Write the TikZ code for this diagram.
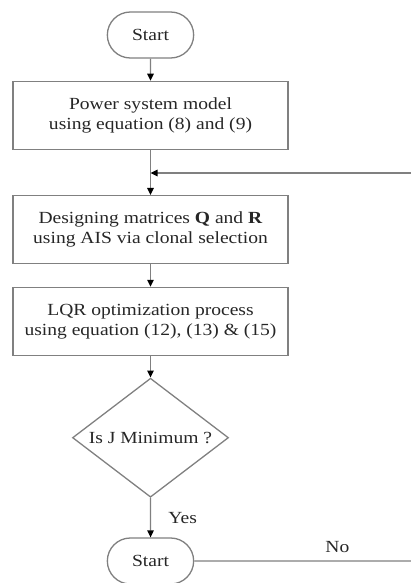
\documentclass[tikz,border=0pt]{standalone}
\usepackage{fontspec}
\setmainfont[FakeStretch=1.15]{Liberation Serif}
\usetikzlibrary{arrows.meta,positioning,shapes.geometric,shapes.misc}
\tikzset{%
  >={Triangle[width=6.5pt,length=7pt,color=black]},
  % Specifications for style of nodes:
         base/.style = {draw=black!50, line width=1.3pt, text=black!85,
                        font=\fontsize{17}{20}\selectfont, align=center},
    startstop/.style = {base, rounded rectangle, minimum width=93pt,
                        minimum height=46pt},
      process/.style = {base, rectangle, minimum width=275pt,
                        minimum height=68pt},
     decision/.style = {base, diamond, aspect=1.31, inner sep=1pt,
                        minimum width=156pt, minimum height=119pt},
         flow/.style = {draw=black!50, line width=1.3pt},
}
\begin{document}
\begin{tikzpicture}[x=1pt, y=1pt, every node/.style={font=\fontsize{17}{20}\selectfont}]
  \useasboundingbox (0,0) rectangle (411,-583);
  \clip (0,0) rectangle (411,-583);

  % Specification of nodes (position, etc.)
  \node (start)  [startstop] at (150.5,-35) {Start};
  \node (model)  [process, below=22pt of start]
                 {Power system model\\using equation (8) and (9)};
  \node (design) [process, below=45pt of model]
                 {Designing matrices \textbf{Q} and \textbf{R}\\using AIS via clonal selection};
  \node (lqr)    [process, below=22.5pt of design]
                 {LQR optimization process\\using equation (12), (13) \& (15)};
  \node (check)  [decision, below=21.5pt of lqr] {Is J Minimum ?};
  \node (finish) [startstop, below=39.5pt of check] {Start};

  % free ends of the loop lines at the right border
  \coordinate (loopIn)  at (411,-173);
  \coordinate (loopOut) at (finish.east -| loopIn);

  % Specification of lines between nodes specified above
  \draw[flow,->] (start)  -- (model);
  \draw[flow,->] (model)  -- (design);
  \draw[flow,->] (loopIn) -- (loopIn -| model.south);
  \draw[flow,->] (design) -- (lqr);
  \draw[flow,->] (lqr)    -- (check);
  \draw[flow,->] (check)  -- node[right, xshift=14pt, text=black!85] {Yes} (finish);
  \draw[flow]    (finish) -- node[pos=0.66, above=4pt, text=black!85] {No} (loopOut);
\end{tikzpicture}
\end{document}
